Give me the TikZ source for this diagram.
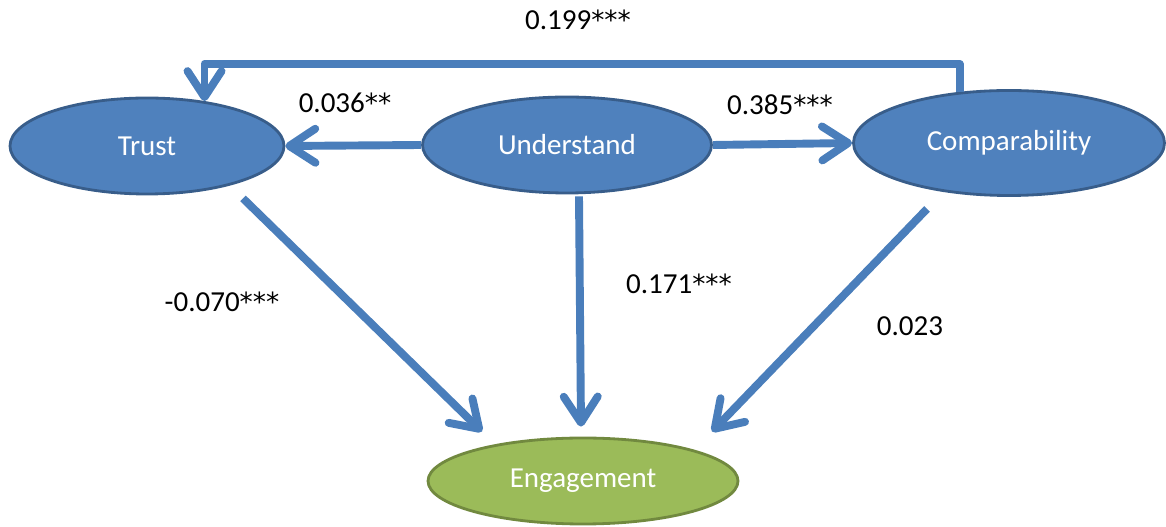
\documentclass[tikz,border=0pt]{standalone}
\usepackage{fontspec}
\setmainfont{Carlito}
\newfontfamily\starfont{DejaVu Sans}
\usetikzlibrary{arrows.meta, positioning, calc, shapes.geometric}
\definecolor{nodeblue}{HTML}{4F81BD}
\definecolor{edgeblue}{HTML}{385D8A}
\definecolor{arrowblue}{HTML}{4A7EBB}
\definecolor{nodegreen}{HTML}{9BBB59}
\definecolor{edgegreen}{HTML}{71893F}
\newcommand{\sigstars}[1]{{\starfont\fontsize{15}{18}\selectfont #1}}

\begin{document}
\begin{tikzpicture}[x=1cm, y=1cm, line join=round,
    construct/.style={ellipse, draw=edgeblue, fill=nodeblue, line width=1.6pt,
      text=white, font=\fontsize{16.5}{20}\selectfont, inner sep=0pt},
    outcome/.style={construct, draw=edgegreen, fill=nodegreen},
    path/.style={draw=arrowblue, line width=4.5pt,
      -{Straight Barb[length=5.2mm, width=6.8mm, line cap=round, line join=round]}},
    coef/.style={font=\fontsize{16.5}{20}\selectfont}]
  \useasboundingbox (0,0) rectangle (23.32,10.54);
  \node[construct, minimum width=5.48cm, minimum height=1.92cm] (trust) at (2.94,7.62) {Trust};
  \node[construct, minimum width=5.78cm, minimum height=1.92cm] (und) at (11.34,7.64) {Understand};
  \node[construct, minimum width=6.22cm, minimum height=2.10cm] (comp) at (20.18,7.68) {Comparability};
  \node[outcome, minimum width=6.2cm, minimum height=1.72cm] (eng) at (11.66,0.92) {Engagement};
  % paths between the constructs
  \draw[path] (comp.134) -- ++(0,0.56) -| (trust.38);
  \draw[path] (und.west) -- (trust.east);
  \draw[path] (und.east) -- (comp.west);
  \draw[path] ($(trust.south)+(1.92,-0.06)$) -- ($(eng.north)+(-2.02,0.1)$);
  \draw[path] ($(und.south)+(0.24,-0.04)$) -- ($(eng.north)+(-0.04,0.2)$);
  \draw[path] ($(comp.south)+(-1.64,-0.24)$) -- ($(eng.north)+(2.58,0.1)$);
  % coefficients
  \node[coef] (c1) at (11.56,10.14) {0.199\sigstars{***}};
  \node[coef] (c2) at (6.9,8.48) {0.036\sigstars{**}};
  \node[coef] (c3) at (15.6,8.44) {0.385\sigstars{***}};
  \node[coef] (c4) at (4.44,4.5) {-0.070\sigstars{***}};
  \node[coef] (c5) at (13.58,4.86) {0.171\sigstars{***}};
  \node[coef] (c6) at (18.2,4.02) {0.023};
\end{tikzpicture}
\end{document}
